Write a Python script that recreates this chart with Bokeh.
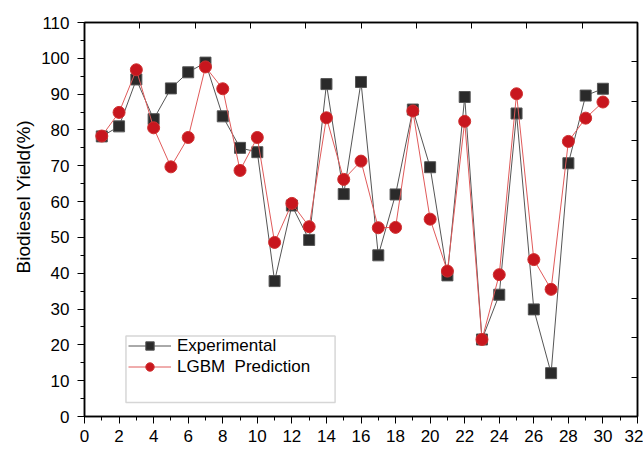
from bokeh.plotting import figure
from bokeh.models import (Range1d, LinearAxis, SingleIntervalTicker, Legend, LegendItem,
                          BoxAnnotation, CustomLabelingPolicy, Title)
from bokeh.embed import file_html
from bokeh.resources import INLINE

run = list(range(1, 31))
experimental = [78.2, 81.0, 94.1, 83.0, 91.6, 96.1, 98.8, 83.8, 75.0, 73.8,
                37.8, 58.9, 49.3, 92.8, 62.1, 93.4, 45.0, 62.0, 85.7, 69.6,
                39.4, 89.2, 21.5, 34.0, 84.6, 29.9, 12.1, 70.7, 89.6, 91.5]
prediction = [78.3, 84.9, 96.8, 80.6, 69.7, 77.9, 97.6, 91.5, 68.7, 77.9,
              48.6, 59.5, 53.0, 83.4, 66.2, 71.3, 52.7, 52.8, 85.3, 55.1,
              40.6, 82.4, 21.5, 39.6, 90.1, 43.8, 35.5, 76.8, 83.3, 87.8]
series_names = ["Experimental", "LGBM  Prediction"]
y_label = "Biodiesel Yield(%)"

FONT = "Liberation Sans"

p = figure(width=643, height=452, output_backend="svg", toolbar_location=None,
           x_range=Range1d(0, 32), y_range=Range1d(0, 110),
           min_border_left=84, min_border_right=6, min_border_top=22, min_border_bottom=36)
p.background_fill_color = "white"
p.border_fill_color = "white"
p.outline_line_color = "black"
p.outline_line_width = 1.5
p.xgrid.visible = False
p.ygrid.visible = False

xa = p.xaxis[0]
xa.ticker = SingleIntervalTicker(interval=2, num_minor_ticks=2)
ya = p.yaxis[0]
ya.ticker = SingleIntervalTicker(interval=10, num_minor_ticks=2)
for ax in (xa, ya):
    ax.axis_line_color = "black"
    ax.axis_line_width = 1.5
    ax.major_tick_line_color = "black"
    ax.minor_tick_line_color = "black"
    ax.major_tick_out = 7
    ax.major_tick_in = 0
    ax.minor_tick_out = 4
    ax.minor_tick_in = 0
    ax.major_label_text_font = FONT
    ax.major_label_text_font_size = "17px"
    ax.major_label_text_color = "black"
xa.major_label_standoff = 6
ya.major_label_standoff = 8

# y-axis title, sitting a little above the frame centre as in the reference
p.add_layout(Title(text=y_label, align="left", offset=143, text_font=FONT,
                   text_font_size="19px", text_font_style="normal",
                   text_color="black", standoff=10), "left")

# secondary unlabeled axes on top and right (ticks pointing inward)
no_labels = CustomLabelingPolicy(code="for (const i of indices) indices.unset(i)")
p.extra_x_ranges = {"top": Range1d(0, 10)}
p.extra_y_ranges = {"right": Range1d(0, 10)}
top_ax = LinearAxis(x_range_name="top", ticker=SingleIntervalTicker(interval=1, num_minor_ticks=0))
right_ax = LinearAxis(y_range_name="right", ticker=SingleIntervalTicker(interval=1, num_minor_ticks=0))
for ax in (top_ax, right_ax):
    ax.major_tick_in = 6
    ax.major_tick_out = 0
    ax.minor_tick_in = 0
    ax.minor_tick_out = 0
    ax.major_label_text_font_size = "0px"
    ax.major_label_standoff = 0
    ax.major_label_policy = no_labels
    ax.axis_line_color = "black"
    ax.axis_line_width = 1.5
    ax.major_tick_line_color = "black"
p.add_layout(top_ax, "above")
p.add_layout(right_ax, "right")

l1 = p.line(run, experimental, line_color="#555555", line_width=1)
m1 = p.scatter(run, experimental, marker="square", size=11, fill_color="#2a2a2a",
               line_color="#555555", line_width=1)
l2 = p.line(run, prediction, line_color="#e05a5a", line_width=1)
m2 = p.scatter(run, prediction, marker="circle", size=12, fill_color="#c8161e",
               line_color="#d03030", line_width=1)

# legend frame
p.add_layout(BoxAnnotation(left=2.4, right=14.5, bottom=3.9, top=22.5,
                           fill_color="white", fill_alpha=1.0,
                           line_color="#777777", line_width=1.5, level="annotation"))

legend = Legend(items=[LegendItem(label=series_names[0], renderers=[l1, m1]),
                       LegendItem(label=series_names[1], renderers=[l2, m2])],
                location=(41, 36), padding=3, margin=0, spacing=0,
                label_height=21, glyph_height=21, glyph_width=43, label_standoff=6,
                label_text_font=FONT, label_text_font_size="17px",
                label_text_color="black",
                border_line_alpha=0, background_fill_alpha=0)
p.add_layout(legend, "center")

open("out.html", "w").write(file_html(p, INLINE))
